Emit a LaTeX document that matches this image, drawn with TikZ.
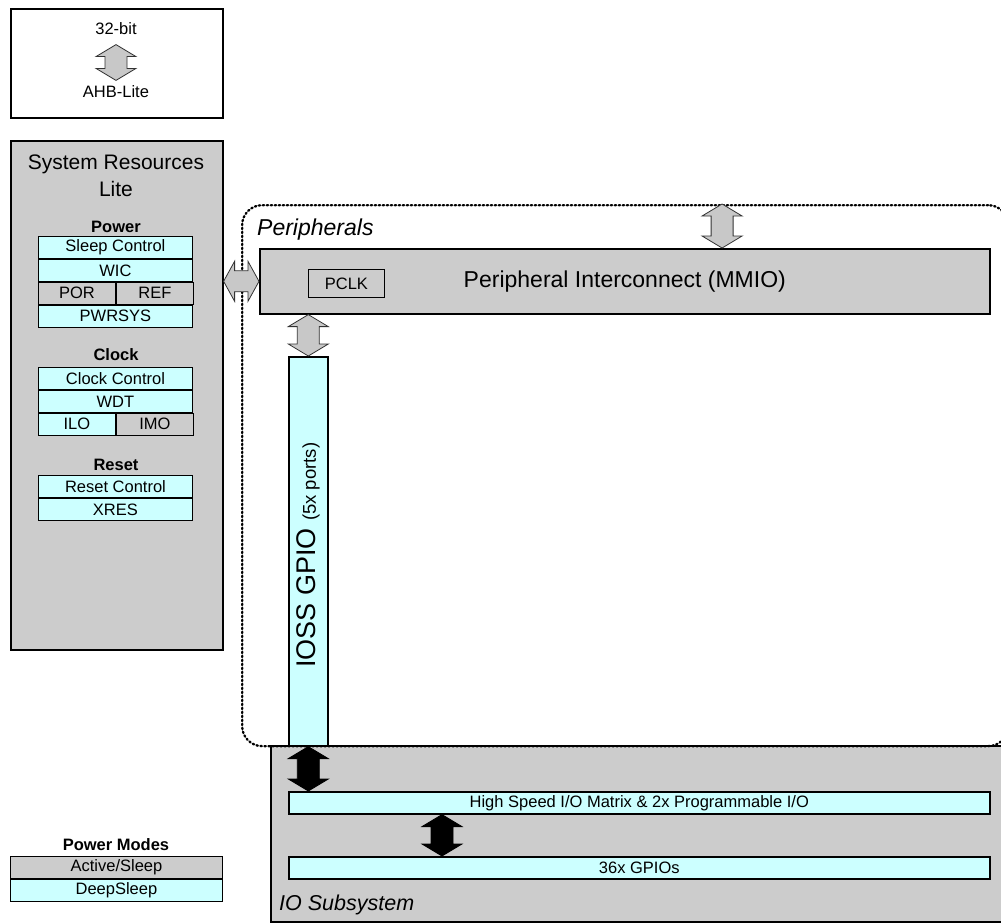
\documentclass[tikz,border=0pt]{standalone}
\usepackage{fontspec}
\setmainfont{Liberation Sans}
\usetikzlibrary{calc}

\definecolor{boxgray}{RGB}{204,204,204}
\definecolor{cellcyan}{RGB}{204,255,255}
\definecolor{arrowgray}{RGB}{200,200,200}

% vertical and horizontal block double arrows between two points
\newcommand{\vbusarrow}[3]{%
  \draw[#1] let \p1=#2, \p2=#3 in
    (\x1,\y1) -- (\x1+20pt,\y1-12pt) -- (\x1+11pt,\y1-12pt)
    -- (\x1+11pt,\y2+12pt) -- (\x1+20pt,\y2+12pt) -- (\x1,\y2)
    -- (\x1-20pt,\y2+12pt) -- (\x1-11pt,\y2+12pt)
    -- (\x1-11pt,\y1-12pt) -- (\x1-20pt,\y1-12pt) -- cycle;}
\newcommand{\hbusarrow}[3]{%
  \draw[#1] let \p1=#2, \p2=#3 in
    (\x1,\y1) -- (\x1+11pt,\y1+20pt) -- (\x1+11pt,\y1+10.5pt)
    -- (\x2-11pt,\y1+10.5pt) -- (\x2-11pt,\y1+20pt) -- (\x2,\y1)
    -- (\x2-11pt,\y1-20pt) -- (\x2-11pt,\y1-10.5pt)
    -- (\x1+11pt,\y1-10.5pt) -- (\x1+11pt,\y1-20pt) -- cycle;}

\begin{document}
\begin{tikzpicture}[x=1pt,y=-1pt,
    box/.style={draw,line width=1.6pt,fill=boxgray,inner sep=0pt,anchor=north west},
    cell/.style={draw,line width=0.9pt,fill=cellcyan,minimum width=154,minimum height=22,
        inner sep=0pt,anchor=north west,font={\fontsize{16.5}{18}\selectfont}},
    gcell/.style={cell,fill=boxgray},
    half/.style={minimum width=77},
    head/.style={font={\fontsize{16.5}{18}\selectfont\bfseries}},
    bar/.style={draw,line width=1.6pt,fill=cellcyan,minimum width=701,minimum height=22,
        inner sep=0pt,anchor=north west,font={\fontsize{16.5}{18}\selectfont}},
    dashbox/.style={draw,line width=2.3pt,dash pattern=on 1.4pt off 2.6pt,line cap=round,
        rounded corners=20pt,anchor=north west},
    tag/.style={anchor=west,inner sep=0pt,font={\fontsize{23}{26}\selectfont\itshape}},
    garrow/.style={draw=black!80,fill=arrowgray,line width=0.8pt},
    barrow/.style={draw,fill=black,line width=0.8pt}]

\useasboundingbox (0,0) rectangle (1001,923);

%% bus legend
\node[box,fill=white,minimum width=212,minimum height=109] (busbox) at (10,8) {};
\node[font={\fontsize{16.5}{18}\selectfont}] (bit) at (116,29) {32-bit};
\node[font={\fontsize{16.5}{18}\selectfont}] (lite) at (116,92) {AHB-Lite};
\vbusarrow{garrow}{($(bit.south)+(0,6)$)}{($(lite.north)+(0,-2)$)}

%% system resources
\node[box,minimum width=212,minimum height=509] (srss) at (10,140) {};
\node[align=center,font={\fontsize{21}{27}\selectfont}] (srsstitle) at (116,176) {System Resources\\Lite};

\node[head] (power) at (116,227) {Power};
\node[cell] (sleep) at (38,236) {Sleep Control};
\node[cell] (wic) at (sleep.south west) {WIC};
\node[gcell,half] (por) at (wic.south west) {POR};
\node[gcell,half] (ref) at (por.north east) {REF};
\node[cell] (pwrsys) at (por.south west) {PWRSYS};

\node[head] (clock) at (116,355) {Clock};
\node[cell] (clkctl) at (38,367) {Clock Control};
\node[cell] (wdt) at (clkctl.south west) {WDT};
\node[cell,half] (ilo) at (wdt.south west) {ILO};
\node[gcell,half] (imo) at (ilo.north east) {IMO};

\node[head] (reset) at (116,465) {Reset};
\node[cell] (rstctl) at (38,475) {Reset Control};
\node[cell] (xres) at (rstctl.south west) {XRES};

%% power modes legend
\node[head] (modes) at (116,845) {Power Modes};
\node[gcell,minimum width=212] (active) at (10,856) {Active/Sleep};
\node[cell,minimum width=212] (deep) at (active.south west) {DeepSleep};

%% io subsystem
\node[box,minimum width=735,minimum height=176] (iobox) at (270,745) {};
\node[tag,font={\fontsize{21.5}{24}\selectfont\itshape}] (iotag) at (279,905) {IO Subsystem};

%% peripherals
\node[dashbox,minimum width=766,minimum height=541] (periph) at (241,204) {};
\node[tag] (pertag) at (257,230) {Peripherals};
\node[box,minimum width=730,minimum height=65,font={\fontsize{23}{26}\selectfont}] (pi) at (259,248)
    {Peripheral Interconnect (MMIO)};
\node[box,line width=0.9pt,minimum width=76,minimum height=28,font={\fontsize{16.5}{18}\selectfont}]
    (pclk) at (308,269) {PCLK};

\node[box,fill=cellcyan,minimum width=39,minimum height=389] (gpio) at (288,356) {};
\node[rotate=90,font={\fontsize{27}{29}\selectfont}] (gpiotext) at ($(gpio.center)+(0,4)$)
    {IOSS GPIO {\fontsize{18.5}{20}\selectfont(5x ports)}};

\node[bar] (hsio) at (288,791) {High Speed I/O Matrix \& 2x Programmable I/O};
\node[bar] (gpios) at (288,856) {36x GPIOs};

%% bus arrows
\coordinate (busin) at ($(pi.north west)!0.633!(pi.north east)$);
\vbusarrow{garrow}{(busin |- periph.north)}{(busin)}
\hbusarrow{garrow}{(srss.east |- pi.west)}{(pi.west)}
\vbusarrow{garrow}{(gpio.north |- pi.south)}{(gpio.north)}
\vbusarrow{barrow}{(gpio.south)}{(gpio.south |- hsio.north)}
\coordinate (hsout) at ($(hsio.south west)+(154,0)$);
\vbusarrow{barrow}{(hsout)}{(hsout |- gpios.north)}

\end{tikzpicture}
\end{document}
